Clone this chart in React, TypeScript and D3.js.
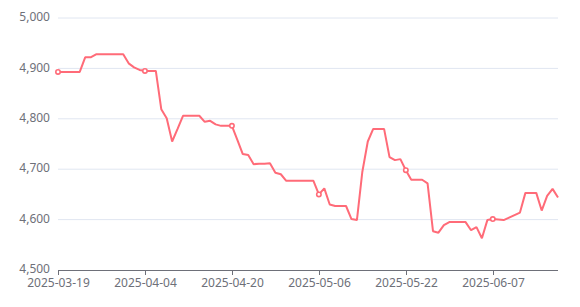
import React from "react";
import * as d3 from "d3";

const startDate = "2025-03-19";
const values: number[] = [
  4893, 4893, 4893, 4893, 4893, 4922, 4922, 4928, 4928, 4928,
  4928, 4928, 4928, 4910, 4902, 4897, 4895, 4895, 4895, 4819,
  4801, 4755, 4780, 4806, 4806, 4806, 4806, 4794, 4796, 4789,
  4786, 4786, 4786, 4758, 4730, 4728, 4710, 4711, 4711, 4712,
  4693, 4690, 4677, 4677, 4677, 4677, 4677, 4677, 4650, 4662,
  4630, 4627, 4627, 4627, 4601, 4599, 4695, 4755, 4780, 4780,
  4780, 4724, 4718, 4720, 4698, 4679, 4679, 4679, 4672, 4577,
  4574, 4589, 4595, 4595, 4595, 4595, 4579, 4585, 4563, 4599,
  4601, 4600, 4599, 4604, 4609, 4614, 4653, 4653, 4653, 4618,
  4647, 4661, 4644,
];
const yTicks = [4500, 4600, 4700, 4800, 4900, 5000];
const labelEvery = 16;

const fmt = d3.timeFormat("%Y-%m-%d");
const parse = d3.timeParse("%Y-%m-%d");
const start = parse(startDate) as Date;
const dates: string[] = values.map((_, i) => fmt(d3.timeDay.offset(start, i)));

const W = 580, H = 307;
const left = 58, right = 558, top = 18, bottom = 270;
const FONT = "'Noto Sans', sans-serif";
const COLOR = "#ff6b78";

export default function App() {
  const x = d3.scalePoint<string>().domain(dates).range([left, right]);
  const y = d3.scaleLinear().domain([4500, 5000]).range([bottom, top]);
  const line = d3
    .line<number>()
    .x((_, i) => x(dates[i]) as number)
    .y((d) => y(d));
  const labelIdx = dates.map((_, i) => i).filter((i) => i % labelEvery === 0);
  const yFmt = d3.format(",");
  return (
    <svg
      width={W}
      height={H}
      style={{ position: "absolute", left: 0, top: 0, background: "#fff" }}
    >
      {yTicks.map((t) => (
        <g key={t}>
          {t !== 4500 && (
            <line x1={left} x2={right} y1={y(t)} y2={y(t)} stroke="#E0E6F1" strokeWidth={1} />
          )}
          <text
            x={left - 8}
            y={y(t) - 1}
            dy="0.35em"
            textAnchor="end"
            fontFamily={FONT}
            fontSize={12}
            fill="#6E7079"
          >
            {yFmt(t)}
          </text>
        </g>
      ))}
      <line x1={left} x2={right} y1={bottom + 0.5} y2={bottom + 0.5} stroke="#6E7079" strokeWidth={1} />
      {labelIdx.map((i) => {
        const xx = Math.round(x(dates[i]) as number) + 0.5;
        return (
          <g key={i}>
            <line x1={xx} x2={xx} y1={bottom} y2={bottom + 5} stroke="#6E7079" strokeWidth={1} />
            <text
              x={xx}
              y={bottom + 17}
              textAnchor="middle"
              fontFamily={FONT}
              fontSize={12}
              fill="#6E7079"
            >
              {dates[i]}
            </text>
          </g>
        );
      })}
      <path d={line(values) || ""} fill="none" stroke={COLOR} strokeWidth={2} strokeLinejoin="bevel" />
      {labelIdx.map((i) => (
        <circle
          key={"m" + i}
          cx={x(dates[i]) as number}
          cy={y(values[i])}
          r={2.2}
          fill="#fff"
          stroke={COLOR}
          strokeWidth={1.6}
        />
      ))}
    </svg>
  );
}
